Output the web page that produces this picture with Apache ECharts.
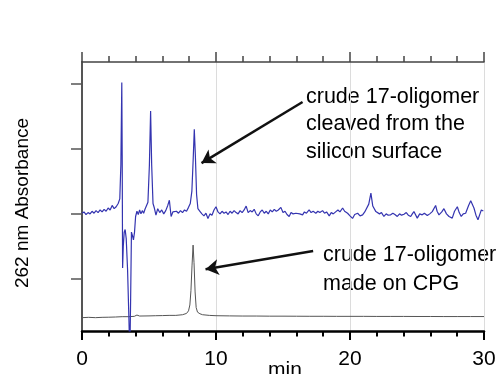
<!DOCTYPE html>
<html><head><meta charset="utf-8">
<script src="https://cdn.jsdelivr.net/npm/echarts@6/dist/echarts.min.js"></script>
<style>html,body{margin:0;padding:0;background:#fff}#c{width:498px;height:374px}</style>
</head><body><div id="c"></div>
<script>
// Blue trace: crude 17-oligomer cleaved from the silicon surface
const blueTime = [0.00,0.15,0.30,0.45,0.60,0.75,0.90,1.05,1.20,1.35,1.50,1.65,1.80,1.95,2.10,2.25,2.40,2.55,2.70,2.82,2.90,2.97,3.00,3.03,3.08,3.15,3.22,3.30,3.40,3.50,3.57,3.63,3.69,3.76,3.84,3.92,4.00,4.10,4.20,4.30,4.40,4.50,4.60,4.70,4.80,4.92,5.03,5.12,5.20,5.30,5.40,5.52,5.65,5.80,5.95,6.10,6.25,6.40,6.52,6.65,6.78,6.92,7.05,7.20,7.35,7.50,7.65,7.80,7.95,8.08,8.20,8.30,8.38,8.46,8.55,8.65,8.80,8.95,9.10,9.25,9.40,9.55,9.70,9.85,10.00,10.15,10.30,10.45,10.60,10.75,10.90,11.05,11.20,11.35,11.50,11.65,11.80,11.95,12.10,12.25,12.40,12.55,12.70,12.85,13.00,13.15,13.30,13.45,13.60,13.75,13.90,14.05,14.20,14.35,14.50,14.65,14.84,15.00,15.15,15.30,15.46,15.60,15.75,15.96,16.10,16.25,16.46,16.60,16.75,16.95,17.10,17.25,17.45,17.60,17.75,17.95,18.10,18.25,18.45,18.60,18.75,18.95,19.10,19.25,19.45,19.60,19.82,20.00,20.19,20.35,20.57,20.75,20.94,21.10,21.24,21.40,21.56,21.70,21.93,22.03,22.20,22.35,22.53,22.70,22.85,23.03,23.20,23.35,23.53,23.70,23.85,24.03,24.20,24.35,24.53,24.65,24.77,25.02,25.20,25.39,25.55,25.77,25.95,26.14,26.39,26.50,26.64,26.85,27.01,27.20,27.39,27.63,27.80,28.01,28.15,28.30,28.45,28.63,28.85,29.01,29.25,29.40,29.55,29.70,29.80,29.95];
const blueAbs = [1.81,1.83,1.79,1.82,1.80,1.84,1.81,1.85,1.82,1.86,1.83,1.87,1.84,1.89,1.86,1.93,1.88,1.91,1.96,2.03,2.55,3.82,2.70,0.97,1.30,1.52,1.56,1.42,0.95,0.20,-0.40,0.50,1.52,1.47,1.40,1.52,1.76,1.84,1.79,1.86,1.80,1.85,1.81,1.87,1.90,1.98,2.55,3.38,2.55,1.96,1.89,1.78,1.88,1.82,1.86,1.80,1.85,1.93,2.01,1.76,1.83,1.80,1.84,1.81,1.85,1.82,1.86,1.84,1.90,1.96,2.15,2.65,3.10,2.70,2.10,1.88,1.84,1.80,1.77,1.81,1.73,1.80,1.78,1.86,1.91,1.83,1.80,1.84,1.81,1.83,1.79,1.84,1.81,1.85,1.82,1.80,1.85,1.82,1.86,1.92,1.82,1.85,1.83,1.87,1.80,1.77,1.83,1.86,1.81,1.84,1.80,1.86,1.83,1.87,1.84,1.86,1.90,1.82,1.84,1.79,1.76,1.82,1.80,1.81,1.84,1.80,1.785,1.83,1.81,1.86,1.82,1.84,1.81,1.84,1.82,1.85,1.81,1.83,1.77,1.82,1.80,1.835,1.86,1.83,1.89,1.84,1.81,1.77,1.73,1.79,1.81,1.77,1.785,1.83,1.86,1.95,2.12,1.92,1.835,1.835,1.80,1.82,1.76,1.80,1.78,1.785,1.81,1.79,1.76,1.80,1.78,1.795,1.82,1.78,1.76,1.80,1.835,1.735,1.80,1.785,1.81,1.775,1.80,1.835,1.93,1.84,1.785,1.83,1.88,1.80,1.76,1.735,1.84,1.91,1.82,1.76,1.80,1.81,1.93,2.00,1.89,1.78,1.71,1.80,1.86,1.845];

// Black trace: crude 17-oligomer made on CPG
const blackTime = [0.0,0.5,1.0,1.5,2.0,2.5,3.0,3.5,3.9,4.1,4.3,5.0,5.5,6.0,6.5,7.0,7.5,7.8,7.95,8.05,8.13,8.21,8.29,8.36,8.44,8.52,8.62,8.8,9.0,9.5,10,11,12,13,14,15,16,17,18,19,20,21,22,23,24,25,26,27,28,29,30];
const blackAbs = [0.205,0.21,0.205,0.21,0.212,0.215,0.22,0.22,0.225,0.245,0.23,0.232,0.235,0.237,0.24,0.24,0.25,0.27,0.31,0.40,0.62,1.00,1.32,1.05,0.60,0.36,0.29,0.265,0.25,0.24,0.235,0.232,0.23,0.23,0.228,0.228,0.227,0.226,0.226,0.225,0.225,0.225,0.224,0.224,0.224,0.223,0.223,0.222,0.222,0.222,0.222];

const xTicks = [0, 10, 20, 30];
const yTickValues = [0.8, 1.8, 2.8, 3.8];
const xAxisTitle = 'min';
const yAxisTitle = '262 nm Absorbance';

// annotation arrows in data coordinates: [tail, head]
const arrow1 = [[16.46, 3.52], [8.92, 2.58]];
const arrow2 = [[17.25, 1.23], [9.22, 0.95]];
const label1 = 'crude 17-oligomer\ncleaved from the\nsilicon surface';
const label2 = 'crude 17-oligomer\nmade on CPG';

const zip = (a, b) => a.map((v, i) => [v, b[i]]);
const FONT = 'Liberation Sans, Arial, sans-serif';

const chart = echarts.init(document.getElementById('c'), null, {renderer: 'canvas'});
const arrowStyle = {color: '#111', width: 2.5, type: 'solid'};
chart.setOption({
  animation: false,
  backgroundColor: '#fff',
  grid: {left: 82, right: 14, top: 62, bottom: 43, outerBoundsMode: 'none', containLabel: false},
  xAxis: [{
    type: 'value', min: xTicks[0], max: xTicks[xTicks.length - 1], interval: 10, position: 'bottom',
    axisLine: {show: true, lineStyle: {color: '#000', width: 2.5}},
    axisTick: {show: true, length: 9, lineStyle: {color: '#000', width: 2}},
    minorTick: {show: true, splitNumber: 5, length: 5.5, lineStyle: {color: '#000', width: 2}},
    axisLabel: {fontSize: 21, color: '#000', margin: 18, fontFamily: FONT},
    splitLine: {show: true, lineStyle: {color: '#dcdcdc', width: 1}}
  }, {
    type: 'value', min: xTicks[0], max: xTicks[xTicks.length - 1], interval: 10, position: 'top',
    axisLine: {show: true, lineStyle: {color: '#444', width: 1.5}},
    axisTick: {show: true, length: 10, lineStyle: {color: '#444', width: 1.5}},
    minorTick: {show: true, splitNumber: 5, length: 6, lineStyle: {color: '#444', width: 1.5}},
    axisLabel: {show: false},
    splitLine: {show: false}
  }],
  yAxis: {
    type: 'value', min: 0, max: 4.134,
    axisLine: {show: true, lineStyle: {color: '#555', width: 2}},
    axisTick: {show: true, customValues: yTickValues, length: 11, lineStyle: {color: '#555', width: 1.5}},
    axisLabel: {show: false},
    splitLine: {show: false}
  },
  series: [{
    type: 'line', xAxisIndex: 0, data: zip(blackTime, blackAbs), showSymbol: false, symbol: 'none',
    lineStyle: {color: '#555', width: 1}, silent: true, z: 2
  }, {
    type: 'line', xAxisIndex: 0, data: zip(blueTime, blueAbs), showSymbol: false, symbol: 'none',
    lineStyle: {color: '#3434b0', width: 1.2}, silent: true, z: 3,
    markLine: {
      silent: true, animation: false, symbol: ['none', 'arrow'], symbolSize: [12, 13],
      label: {show: false}, lineStyle: arrowStyle,
      data: [
        [{coord: arrow1[0]}, {coord: arrow1[1]}],
        [{coord: arrow2[0]}, {coord: arrow2[1]}]
      ]
    }
  }],
  graphic: [
    {type: 'text', left: 306, top: 83, style: {text: label1, fontSize: 21.5, lineHeight: 27.5, fontFamily: FONT, fill: '#000'}},
    {type: 'text', left: 323, top: 241, style: {text: label2, fontSize: 21.5, lineHeight: 28.5, fontFamily: FONT, fill: '#000'}},
    {type: 'text', x: 285, y: 370,
     style: {text: xAxisTitle, fontSize: 21, fontFamily: FONT, fill: '#000', align: 'center', verticalAlign: 'middle'}},
    {type: 'text', x: 23, y: 203, rotation: Math.PI / 2,
     style: {text: yAxisTitle, fontSize: 19, fontFamily: FONT, fill: '#000', align: 'center', verticalAlign: 'middle'}}
  ]
});
</script></body></html>
